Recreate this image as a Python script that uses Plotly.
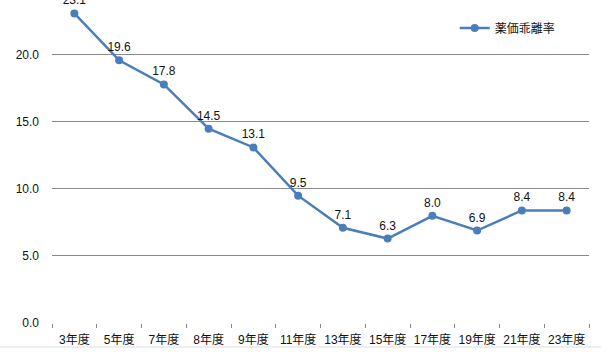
import plotly.graph_objects as go

categories = ["3年度", "5年度", "7年度", "8年度", "9年度", "11年度", "13年度",
              "15年度", "17年度", "19年度", "21年度", "23年度"]
values = [23.1, 19.6, 17.8, 14.5, 13.1, 9.5, 7.1, 6.3, 8.0, 6.9, 8.4, 8.4]
labels = [f"{v:.1f}" for v in values]
series_name = "薬価乖離率"
y_ticks = [0, 5, 10, 15, 20]
y_tick_labels = ["0.0", "5.0", "10.0", "15.0", "20.0"]

FONT = "Liberation Sans, Arial, Noto Sans CJK JP, sans-serif"
BLUE = "#4a7ebb"

fig = go.Figure()
fig.add_trace(go.Scatter(
    x=categories, y=values, mode="lines+markers+text",
    name=series_name, text=labels, textposition="top center",
    textfont=dict(family=FONT, size=12, color="#111"),
    line=dict(color=BLUE, width=2.5),
    marker=dict(color=BLUE, size=8),
    cliponaxis=False,
))

fig.update_layout(
    width=611, height=356,
    margin=dict(l=52, r=22, t=0, b=33, autoexpand=False),
    paper_bgcolor="white", plot_bgcolor="white",
    font=dict(family=FONT, size=11, color="#111"),
    showlegend=True,
    legend=dict(x=0.75, y=0.913, xanchor="left", yanchor="middle",
                bgcolor="rgba(0,0,0,0)", itemwidth=30,
                font=dict(family="Noto Sans CJK JP", size=12, color="#111")),
    xaxis=dict(type="category", range=[-0.5, len(categories) - 0.5],
               showgrid=False, showline=False, zeroline=False,
               ticks="outside", tickson="boundaries", ticklen=4, tickwidth=1,
               tickcolor="#888", tickangle=0, automargin=False,
               ticklabelstandoff=8,
               tickfont=dict(family=FONT, size=12, color="#111")),
    yaxis=dict(range=[0, 24.1], tickvals=y_ticks, ticktext=y_tick_labels,
               showgrid=True, gridcolor="#8a8a8a", gridwidth=1, automargin=False,
               zeroline=False, showline=False, ticks="", ticklabelstandoff=12,
               tickfont=dict(family=FONT, size=12, color="#111")),
    shapes=[dict(type="line", xref="paper", yref="paper",
                 x0=-52/537, x1=1 + 12/537, y0=-24/323, y1=-24/323,
                 line=dict(color="#dddddd", width=1))],
)

fig.write_html("out.html", config={"displayModeBar": False},
               post_script="document.body.style.margin='0';document.body.style.overflow='hidden';")
